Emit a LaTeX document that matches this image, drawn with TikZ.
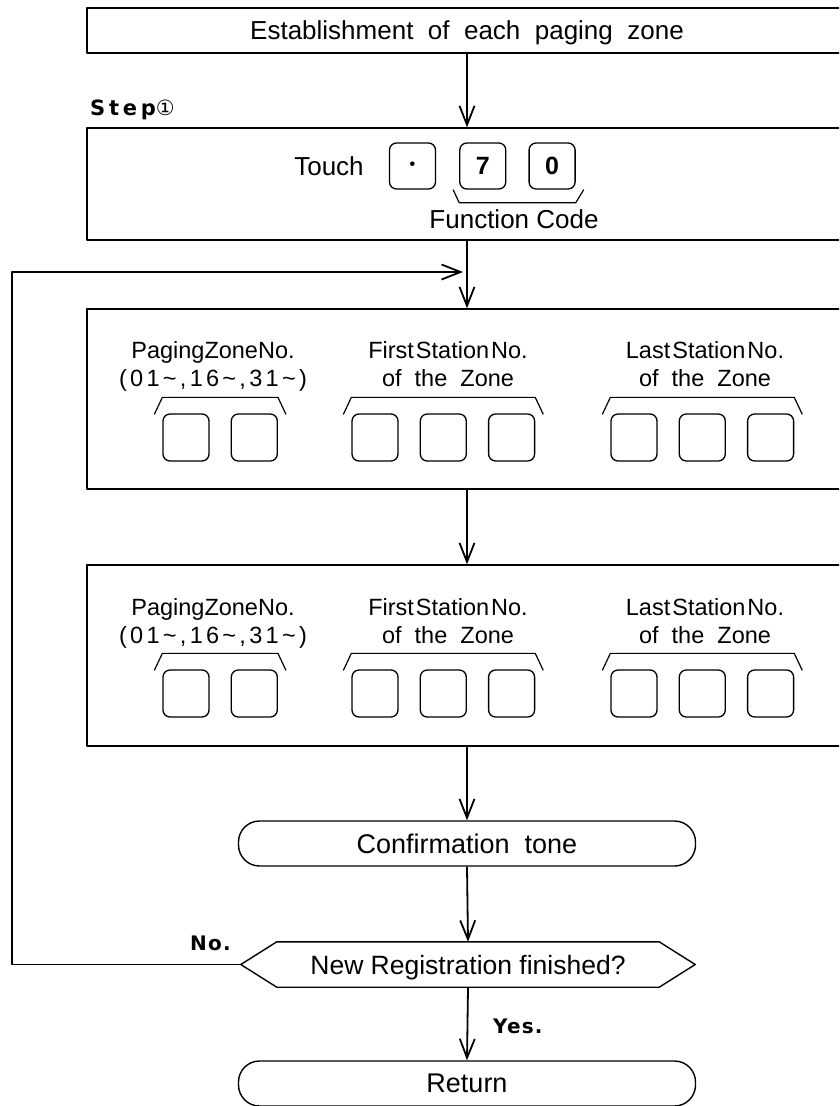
\documentclass[tikz,border=0pt]{standalone}
\usepackage{fontspec}
\setmainfont{Liberation Sans}
\newfontfamily\circleFont{DejaVu Sans}
\newfontfamily\digitFont[LetterSpace=14]{Liberation Sans}
\newfontfamily\stepFont[LetterSpace=18]{DejaVu Sans Bold}
\newfontfamily\tagFont[LetterSpace=6]{DejaVu Sans Bold}
\usepackage{tikz}
\usetikzlibrary{positioning, calc, arrows.meta}
\tikzstyle{flowChart} = [x = 1pt, y = -1pt, line join = round]
\tikzstyle{stageBox} = [draw, line width = 1.4pt, minimum width = 760pt, inner sep = 0pt, text depth = 0pt, font = \fontsize{26}{30}\selectfont]
\tikzstyle{terminalBox} = [draw, line width = 1.4pt, rounded corners = 21pt, minimum width = 457pt, minimum height = 45pt, inner sep = 0pt, text depth = 0pt, font = \fontsize{27}{30}\selectfont]
\tikzstyle{keyStyle} = [draw, line width = 1.3pt, rounded corners = 7pt, minimum width = 46pt, minimum height = 47pt, inner sep = 0pt, font = \fontsize{25}{28}\selectfont\bfseries]
\tikzstyle{braceLine} = [line width = 1.2pt]
\tikzstyle{flowArrow} = [line width = 1.8pt, -{Straight Barb[length = 19pt, width = 15pt]}]
\tikzstyle{zoneText} = [align = center, inner sep = 0pt, anchor = base, font = \fontsize{23.5}{28}\selectfont]
\tikzstyle{plainText} = [inner sep = 0pt, text depth = 0pt, font = \fontsize{26}{30}\selectfont]
\tikzstyle{tagText} = [inner sep = 0pt, anchor = base west, font = \fontsize{20}{24}\tagFont]
\newcommand{\zoneKeys}[4]{
  \foreach \k in {1,...,#4} {
    \node [keyStyle] (#1\k) at ({#2 + 68.3 * (\k - 1)}, #3) {};
  }
}
\newcommand{\keyBrace}[2]{\draw [braceLine] ($(#1.north west) + (-8, 1)$) -- ($(#1.north west) + (0, -16)$) -- ($(#2.north east) + (0, -16)$) -- ($(#2.north east) + (8, 1)$);}
\newcommand{\zoneRow}[3]{
  \node [zoneText] (pagingText#1) at (213, #3) {PagingZoneNo.\\{\digitFont (01\textasciitilde,16\textasciitilde,31\textasciitilde)}};
  \node [zoneText] (firstText#1) at (448, #3) {First\hspace{2pt}Station\hspace{2pt}No.\\of~~the~~Zone};
  \node [zoneText] (lastText#1) at (705, #3) {Last\hspace{2pt}Station\hspace{2pt}No.\\of~~the~~Zone};
  \zoneKeys{paging#1}{186}{#2}{2}
  \zoneKeys{first#1}{375}{#2}{3}
  \zoneKeys{last#1}{634}{#2}{3}
  \keyBrace{paging#11}{paging#12}
  \keyBrace{first#11}{first#13}
  \keyBrace{last#11}{last#13}
}

\begin{document}
\begin{tikzpicture}[flowChart]
  \useasboundingbox (0, 0) rectangle (839, 1106);
  \clip (0, 0) rectangle (839, 1106);

  % stages
  \node [stageBox, minimum height = 45pt] (establish) at (467, 30.5) {Establishment~~of~~each~~paging~~zone};
  \node [tagText, font = \fontsize{21}{24}\stepFont] (stepTag) at (90, 115) {Step{\circleFont ①}};
  \node [stageBox, minimum height = 112pt] (step) at (467, 184) {};
  \node [stageBox, minimum height = 180pt] (zoneA) at (467, 399) {};
  \node [stageBox, minimum height = 181pt] (zoneB) at (467, 655.5) {};
  \node [terminalBox] (tone) at (467, 843.5) {Confirmation~~tone};
  \node [plainText, minimum width = 454pt, minimum height = 45pt, font = \fontsize{26.5}{30}\selectfont] (finished) at (468, 964.5) {New Registration finished?};
  \draw [line width = 1.4pt] (finished.west) -- ($(finished.north west) + (36, 0)$) -- ($(finished.north east) + (-36, 0)$) -- (finished.east) -- ($(finished.south east) + (-36, 0)$) -- ($(finished.south west) + (36, 0)$) -- cycle;
  \node [terminalBox] (return) at (467, 1083.5) {Return};

  % function code
  \node [keyStyle, minimum height = 46pt] (dotKey) at (412.5, 166) {\fontsize{16}{16}\selectfont •};
  \node [keyStyle, minimum height = 46pt, right = 23pt of dotKey] (sevenKey) {7};
  \node [keyStyle, minimum height = 46pt, right = 22pt of sevenKey] (zeroKey) {0};
  \node [plainText, left = 25pt of dotKey] (touch) {Touch};
  \draw [braceLine] ($(sevenKey.south west) + (-6, 0)$) -- ($(sevenKey.south west) + (0, 13)$) -- ($(zeroKey.south east) + (0, 13)$) -- ($(zeroKey.south east) + (8, 0)$);
  \node [plainText] (functionCode) at (514, 219) {Function~Code};

  % zone numbers
  \zoneRow{A}{437.5}{386}
  \zoneRow{B}{693.5}{643}

  % arrows
  \draw [flowArrow] (establish.south) -- (step.north);
  \draw [flowArrow] (step.south) -- (zoneA.north);
  \draw [flowArrow] (zoneA.south) -- (zoneB.north);
  \draw [flowArrow] (zoneB.south) -- (tone.north);
  \draw [flowArrow] (tone.south) -- (finished.north);
  \draw [flowArrow] (finished.south) -- (return.north);
  \coordinate (loopCorner) at (12, 272);
  \coordinate (loopEnd) at (463, 272);
  \draw [flowArrow] (finished.west) -| (loopCorner) -- (loopEnd);
  \node [tagText] (noTag) at (190, 950) {No.};
  \node [tagText] (yesTag) at (493, 1033) {Yes.};
\end{tikzpicture}
\end{document}
